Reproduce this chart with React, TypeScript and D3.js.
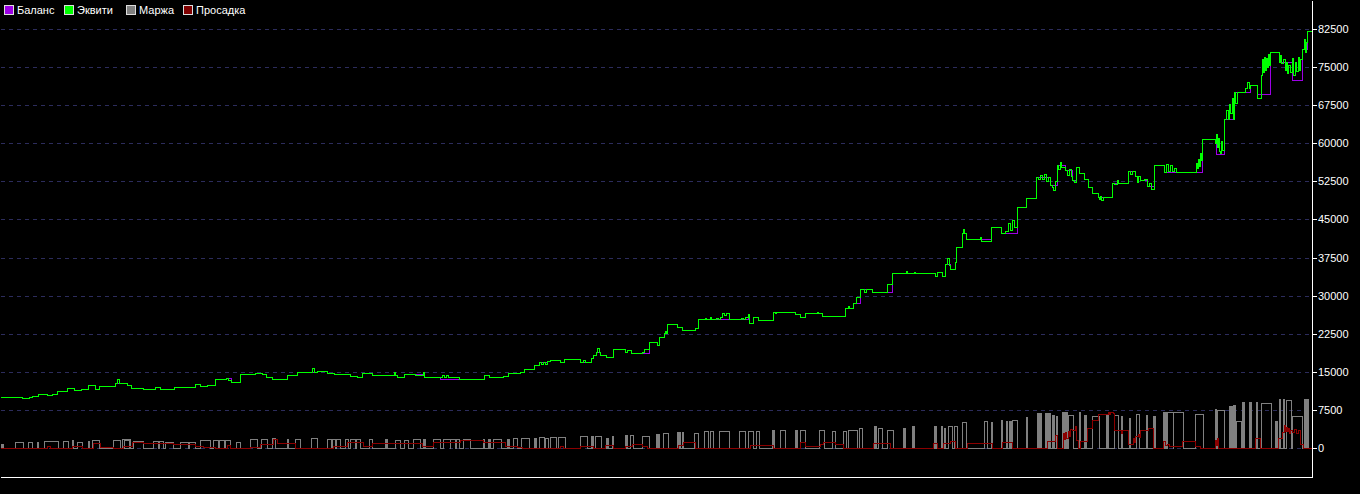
import React from "react";
import * as d3 from "d3";

// ---- data ----
const yTicks = [0, 7500, 15000, 22500, 30000, 37500, 45000, 52500, 60000, 67500, 75000, 82500];
const legendNames = ["Баланс", "Эквити", "Маржа", "Просадка"];
const legendColors = ["#9c00e6", "#00ff00", "#808080", "#800000"];

// equity: [time index, value]
const equity: [number, number][] = [
  [0,10000],[22,9780],[29,10100],[32,10240],[38,10630],[47,10370],[52,10550],[57,11220],[67,11750],[74,11420],[81,11680],[88,12340],[95,11680],[99,12140],[115,12850],[117,13500],[119,12850],[122,12730],[127,12400],[131,11750],[143,11700],[155,11950],[160,11620],[174,11950],[195,12600],[200,12270],[207,12450],[215,13520],[226,13840],[228,13400],[231,13050],[240,14500],[255,14820],[262,14500],[266,14030],[272,13520],[275,13650],[287,14370],[297,15020],[312,15800],[314,15020],[317,15090],[327,14760],[334,14630],[345,14500],[350,14170],[357,14040],[362,14700],[372,14370],[380,14310],[394,14900],[395,14310],[397,13920],[404,14500],[415,14300],[423,14900],[424,13920],[440,14040],[442,14400],[444,13900],[446,14300],[448,14000],[459,13520],[484,14300],[489,13920],[503,14170],[508,14700],[520,14900],[524,15550],[534,16270],[539,16870],[541,16500],[543,16870],[545,16470],[547,17060],[550,17260],[560,16930],[564,17460],[580,16930],[583,17300],[585,16930],[591,17720],[593,18250],[596,18960],[597,19620],[599,18960],[600,18250],[606,17850],[613,19430],[625,18960],[627,19230],[631,18640],[642,18960],[644,19490],[649,20800],[657,20280],[659,21790],[664,22580],[665,23100],[666,22580],[667,24350],[677,23880],[682,23160],[695,23600],[698,25330],[705,25600],[706,25330],[710,25700],[711,25330],[716,25500],[718,25330],[720,25800],[722,26640],[724,26200],[726,26600],[729,25330],[741,25500],[743,25330],[745,25700],[748,26380],[749,24670],[753,25790],[758,25140],[773,26840],[775,26500],[776,26840],[795,26380],[800,25730],[805,26510],[817,26700],[818,26510],[822,25920],[845,27500],[848,28000],[849,27500],[853,28480],[856,29660],[860,31240],[864,30800],[866,31240],[872,30780],[887,32280],[892,34390],[905,34390],[906,34900],[907,34390],[914,34600],[915,34390],[935,33860],[937,34710],[942,33860],[945,36160],[947,37500],[949,36000],[950,35180],[955,36550],[956,39510],[962,42260],[963,43200],[964,42260],[966,41080],[979,41080],[980,41500],[981,40800],[991,43450],[1001,42260],[1005,42700],[1008,44230],[1010,43000],[1012,44800],[1014,43500],[1017,47380],[1026,49150],[1036,53290],[1038,52900],[1040,53800],[1042,53000],[1044,54000],[1046,52600],[1048,53290],[1050,51800],[1052,51300],[1053,50790],[1055,52500],[1057,55650],[1058,55000],[1060,56300],[1061,55300],[1065,54720],[1067,53800],[1069,54900],[1071,53500],[1072,52760],[1074,52300],[1076,55380],[1079,54070],[1084,52890],[1088,51440],[1092,50130],[1098,49470],[1099,48950],[1100,49700],[1101,48800],[1103,49470],[1112,52100],[1114,51900],[1117,52800],[1118,52100],[1128,54590],[1130,54000],[1132,54600],[1135,53550],[1137,52400],[1138,53500],[1140,52760],[1144,52900],[1147,51570],[1149,52200],[1151,51000],[1154,55650],[1164,54390],[1166,56000],[1168,54500],[1170,55800],[1172,54600],[1174,55200],[1176,54260],[1195,54260],[1196,56200],[1197,55200],[1198,57000],[1199,55500],[1200,58000],[1201,56800],[1202,60750],[1215,59960],[1216,61800],[1217,59200],[1218,61000],[1219,58400],[1220,58010],[1221,60500],[1222,58600],[1224,64700],[1226,66500],[1228,64700],[1229,67700],[1230,66000],[1232,69000],[1233,64800],[1234,70020],[1235,68000],[1237,70020],[1240,70140],[1245,70800],[1247,72000],[1249,70800],[1250,71380],[1256,71380],[1257,69000],[1261,73500],[1262,76500],[1263,74000],[1264,77000],[1265,74500],[1266,76800],[1267,75000],[1268,77500],[1269,75500],[1270,78010],[1279,76040],[1280,77300],[1281,75800],[1283,76600],[1285,74500],[1286,76000],[1287,73800],[1288,75500],[1290,74000],[1292,76800],[1293,73500],[1295,76000],[1296,74200],[1298,77000],[1299,74500],[1300,76500],[1302,78470],[1304,80500],[1305,78000],[1306,80000],[1307,82150],[1312,82150]
];

const balance: [number, number][] = [
  [0,10000],[22,9780],[29,10100],[32,10240],[38,10630],[47,10370],[52,10550],[57,11220],[67,11750],[74,11420],[81,11680],[88,12340],[95,11680],[99,12140],[115,12850],[122,12730],[127,12400],[131,11750],[143,11700],[155,11950],[160,11620],[174,11950],[195,12600],[200,12270],[207,12450],[215,13520],[226,13840],[231,13050],[240,14500],[255,14820],[262,14500],[266,14030],[272,13520],[275,13650],[287,14370],[297,15020],[317,15090],[327,14760],[334,14630],[345,14500],[350,14170],[357,14040],[362,14700],[372,14370],[380,14310],[397,13920],[404,14500],[424,13920],[440,13520],[484,14300],[489,13920],[503,14170],[508,14700],[520,14900],[524,15550],[534,16270],[539,16870],[547,17060],[550,17260],[560,16930],[564,17460],[580,16930],[591,17720],[593,18250],[596,18960],[600,18250],[606,17850],[613,19430],[625,18960],[627,19230],[631,18640],[649,20800],[657,20280],[659,21790],[664,22580],[667,24350],[677,23880],[682,23160],[695,23600],[698,25330],[748,26380],[749,24670],[753,25790],[758,25140],[773,26840],[795,26380],[800,25730],[805,26510],[822,25920],[845,27500],[853,28480],[860,31240],[872,30780],[892,34390],[935,33860],[937,34710],[942,33860],[945,36160],[950,35180],[955,36550],[956,39510],[962,42260],[966,41080],[991,43450],[1001,42260],[1017,47380],[1026,49150],[1036,53290],[1050,51770],[1057,55650],[1065,54720],[1072,52760],[1076,55380],[1079,54070],[1084,52890],[1088,51440],[1092,50130],[1098,49470],[1112,52100],[1128,54590],[1135,53550],[1140,52760],[1147,51570],[1154,55650],[1164,54390],[1173,54260],[1202,60750],[1215,59960],[1216,57870],[1224,64700],[1234,70020],[1250,71380],[1257,69630],[1270,78010],[1279,76040],[1292,72440],[1302,78470],[1307,82150],[1312,82150]
];

// margin: [start, end, value]
const margin: [number, number, number][] = [
  [1,3,850],[15,23,1250],[28,32,1250],[37,38,1250],[44,58,1440],[63,68,1440],[72,73,1640],[77,82,1120],[88,89,1440],[92,99,1640],[113,120,1580],[122,130,1710],[124,129,1640],[133,143,1380],[153,158,1380],[159,163,1380],[165,173,1250],[180,188,1250],[189,195,1250],[200,210,1640],[213,218,1580],[219,224,1580],[225,230,1580],[236,240,1120],[250,257,1840],[261,267,1840],[272,275,1900],[287,288,1770],[295,300,1770],[311,317,2030],[327,331,1770],[332,335,1770],[336,340,1770],[345,348,1770],[350,355,1770],[356,360,1770],[369,372,1770],[385,387,1770],[395,400,1640],[404,408,1640],[413,420,1770],[423,425,1770],[433,440,1770],[443,450,1770],[450,455,1840],[456,459,1840],[463,470,1770],[483,484,1840],[488,490,1840],[493,501,1840],[507,509,1840],[513,517,1970],[521,529,1970],[534,536,2030],[539,544,2230],[545,548,2030],[550,556,2170],[558,565,2170],[580,587,2300],[591,593,2300],[595,601,2430],[606,608,1970],[612,613,2430],[625,627,2630],[630,633,2630],[642,649,2430],[656,657,2820],[658,659,2820],[663,668,3020],[677,678,3220],[679,680,3220],[682,683,3220],[694,698,3020],[704,708,3410],[710,713,3410],[719,729,3410],[739,745,3410],[748,753,3280],[756,759,3410],[772,774,3480],[780,785,3610],[795,797,3610],[800,805,3610],[819,824,3610],[832,835,3410],[843,846,3410],[848,857,3610],[859,862,3940],[874,876,4270],[878,882,3940],[887,893,3610],[903,904,3940],[904,905,3940],[912,914,4400],[934,935,4270],[935,936,4270],[941,942,4270],[944,945,3940],[948,952,4270],[954,957,4270],[962,966,5050],[984,987,5250],[991,992,5050],[1001,1002,5450],[1006,1007,5250],[1009,1011,5250],[1012,1017,5450],[1026,1027,6100],[1037,1038,6890],[1038,1039,6890],[1039,1040,6890],[1040,1041,6890],[1045,1046,6890],[1046,1047,6890],[1047,1048,6890],[1048,1049,6890],[1049,1050,6890],[1052,1054,6560],[1056,1057,6370],[1062,1063,7090],[1063,1064,7090],[1064,1065,7090],[1065,1066,7090],[1066,1067,7090],[1068,1073,6560],[1079,1080,7090],[1084,1086,6560],[1092,1099,6230],[1106,1107,6760],[1107,1108,6760],[1114,1118,6560],[1121,1122,6230],[1129,1130,5910],[1136,1139,6760],[1146,1147,6560],[1153,1154,6370],[1154,1155,6370],[1163,1164,7020],[1164,1165,7020],[1165,1166,7020],[1167,1173,7020],[1173,1183,7020],[1195,1203,6760],[1215,1216,7740],[1217,1224,7410],[1229,1230,8330],[1230,1231,8330],[1231,1232,8330],[1233,1235,8530],[1236,1241,5380],[1242,1243,8990],[1243,1244,8990],[1249,1251,8990],[1256,1257,8990],[1261,1271,8860],[1275,1277,5380],[1279,1280,9710],[1283,1284,9650],[1286,1291,9380],[1292,1302,6370],[1304,1305,9710],[1305,1306,9710],[1306,1307,9710],[1307,1308,9710]
];

// drawdown: [time index, value]
const drawdown: [number, number][] = [
  [0,0],[47,330],[50,0],[72,460],[82,0],[93,980],[100,200],[113,0],[123,460],[132,1120],[143,920],[173,850],[195,330],[203,130],[215,0],[227,590],[230,0],[250,130],[260,790],[273,1770],[277,980],[295,0],[333,460],[347,1250],[363,460],[372,920],[405,920],[422,330],[433,1250],[450,1250],[460,1640],[483,1120],[505,460],[517,200],[522,0],[560,330],[563,0],[580,390],[593,0],[605,525],[613,0],[625,330],[632,790],[642,330],[647,0],[678,660],[683,1180],[695,0],[750,660],[760,590],[773,0],[800,1250],[805,390],[820,790],[823,1250],[835,850],[843,0],[873,980],[890,0],[933,980],[937,0],[943,980],[950,1310],[955,0],[967,1050],[985,980],[992,0],[1002,1250],[1012,0],[1047,1310],[1055,2620],[1057,0],[1063,2950],[1064,1800],[1065,3200],[1066,2000],[1068,3300],[1069,2400],[1070,3700],[1072,3600],[1075,4260],[1076,1500],[1078,0],[1080,1310],[1087,3940],[1092,5580],[1098,6690],[1108,7090],[1109,6700],[1110,7090],[1113,6900],[1114,3610],[1120,3480],[1121,2900],[1122,3480],[1128,790],[1133,1970],[1134,1200],[1135,2300],[1138,2800],[1139,2200],[1140,3480],[1148,3940],[1153,0],[1163,1310],[1165,600],[1167,800],[1169,300],[1173,330],[1182,1380],[1195,330],[1200,0],[1215,1640],[1216,600],[1217,1900],[1218,0],[1255,1970],[1260,0],[1278,1970],[1282,3200],[1284,4590],[1285,3400],[1286,4200],[1287,3300],[1288,3900],[1289,2900],[1290,3610],[1292,3200],[1294,3800],[1296,2900],[1298,3500],[1300,790],[1303,0],[1312,0]
];

// ---- layout ----
const W = 1360, H = 494;
const plotRight = 1312, plotBottom = 477;

export default function App() {
  const x = d3.scaleLinear().domain([0, 1312]).range([0, plotRight]);
  const y = d3.scaleLinear().domain([0, 82500]).range([448, 29]);

  const stepLine = d3.line<[number, number]>()
    .x(d => Math.round(x(d[0])))
    .y(d => Math.round(y(d[1])))
    .curve(d3.curveStepAfter);

  const marginPts: [number, number][] = [[0, 0]];
  margin.forEach(([a, b, v]) => {
    marginPts.push([a, 0], [a, v], [b, v], [b, 0]);
  });
  marginPts.push([1312, 0]);
  const linLine = d3.line<[number, number]>()
    .x(d => Math.round(x(d[0])))
    .y(d => Math.round(y(d[1])));

  const font = "'Liberation Sans', Arial, sans-serif";

  return (
    <div style={{ position: "fixed", left: 0, top: 0, width: W, height: H, background: "#000" }}>
      <svg width={W} height={H} style={{ display: "block", background: "#000" }}>
        <g transform="translate(0.5,0.5)" shapeRendering="crispEdges">
          {yTicks.map(t => (
            <line key={"g" + t} x1={0} x2={plotRight} y1={Math.round(y(t))} y2={Math.round(y(t))}
              stroke="#2c2c5c" strokeDasharray="4,4" />
          ))}
          {/* margin */}
          {margin.filter(m => m[1] - m[0] <= 2).map((m, i) => (
            <rect key={"mf" + i} x={Math.round(x(m[0]))} y={Math.round(y(m[2]))}
              width={Math.round(x(m[1])) - Math.round(x(m[0]))} height={Math.round(y(0)) - Math.round(y(m[2]))}
              fill="#808080" />
          ))}
          <path d={linLine(marginPts) || ""} fill="none" stroke="#808080" strokeWidth={1} />
          {/* drawdown */}
          <path d={stepLine(drawdown) || ""} fill="none" stroke="#8b0000" strokeWidth={1.4} />
          {/* balance */}
          <path d={stepLine(balance) || ""} fill="none" stroke="#9c00e6" strokeWidth={1} />
          {/* equity */}
          <path d={stepLine(equity) || ""} fill="none" stroke="#00ff00" strokeWidth={1} />
          {/* frame */}
          <line x1={plotRight} x2={plotRight} y1={0} y2={plotBottom} stroke="#fff" />
          <line x1={0} x2={plotRight} y1={plotBottom} y2={plotBottom} stroke="#fff" />
          {yTicks.map(t => (
            <line key={"t" + t} x1={plotRight} x2={plotRight + 4} y1={Math.round(y(t))} y2={Math.round(y(t))} stroke="#fff" />
          ))}
        </g>
        {yTicks.map(t => (
          <text key={"l" + t} x={plotRight + 6} y={Math.round(y(t)) + 4} fill="#fff"
            fontFamily={font} fontSize={11}>{t}</text>
        ))}
        {legendNames.map((n, i) => {
          const lx = [4, 64, 126, 183][i];
          return (
            <g key={n}>
              <rect x={lx + 0.5} y={5.5} width={9} height={9} fill={legendColors[i]} stroke="#ddd" />
              <text x={lx + 13} y={14} fill="#fff" fontFamily={font} fontSize={11}>{n}</text>
            </g>
          );
        })}
      </svg>
    </div>
  );
}
